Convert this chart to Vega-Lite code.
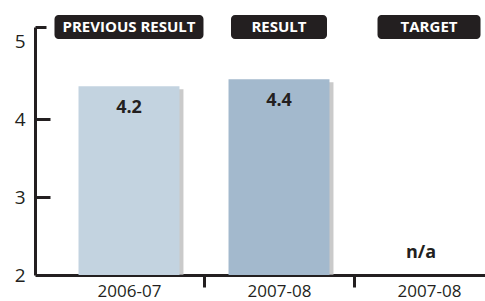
{
  "$schema": "https://vega.github.io/schema/vega-lite/v6.json",
  "width": 488,
  "height": 248,
  "autosize": "none",
  "padding": {"left": 35, "top": 27, "right": 0, "bottom": 26},
  "background": "white",
  "config": {"view": {"stroke": null}, "font": "Open Sans"},
  "data": {
    "values": [
      {"series": "PREVIOUS RESULT", "period": "2006-07", "value": 4.42, "label": "4.2"},
      {"series": "RESULT", "period": "2007-08", "value": 4.51, "label": "4.4"},
      {"series": "TARGET", "period": "2007-08", "value": null, "label": "n/a"}
    ]
  },
  "encoding": {
    "x": {
      "field": "series",
      "type": "nominal",
      "sort": ["PREVIOUS RESULT", "RESULT", "TARGET"],
      "scale": {"paddingInner": 0.327, "paddingOuter": 0.29},
      "axis": {
        "title": null,
        "labelAngle": 0,
        "labelExpr": "datum.value == 'PREVIOUS RESULT' ? '2006-07' : '2007-08'",
        "labelFont": "Open Sans",
        "labelFontSize": 17,
        "labelColor": "#231f20",
        "labelPadding": -4,
        "labelOffset": -75,
        "domainColor": "#231f20",
        "domainWidth": 3,
        "tickColor": "#231f20",
        "tickWidth": 3,
        "tickSize": 12,
        "tickOffset": 75,
        "grid": false
      }
    }
  },
  "layer": [
    {
      "transform": [{"filter": "datum.value != null"}],
      "mark": {"type": "bar", "color": "#b8b8b8", "opacity": 0.75, "xOffset": 4, "yOffset": 3},
      "encoding": {
        "y": {"field": "value", "type": "quantitative", "scale": {"domain": [2, 5.18], "zero": false, "nice": false}},
        "y2": {"datum": 2}
      }
    },
    {
      "transform": [{"filter": "datum.value != null"}],
      "mark": {"type": "bar"},
      "encoding": {
        "y": {
          "field": "value",
          "type": "quantitative",
          "scale": {"domain": [2, 5.18], "zero": false, "nice": false},
          "axis": {
            "title": null,
            "grid": false,
            "values": [2, 3, 4, 5, 5.18],
            "labelExpr": "datum.value > 5.1 ? '' : format(datum.value, 'd')",
            "labelOverlap": false,
            "labelFont": "Open Sans",
            "labelFontSize": 19,
            "labelColor": "#231f20",
            "labelPadding": 25,
            "domainColor": "#231f20",
            "domainWidth": 3,
            "tickWidth": 3,
            "tickColor": {"condition": {"test": "datum.value == 3 || datum.value == 4 || datum.value > 5.1", "value": "#231f20"}, "value": "transparent"},
            "tickSize": {"condition": {"test": "datum.value > 5.1", "value": -11}, "value": -15}
          }
        },
        "y2": {"datum": 2},
        "color": {
          "field": "series",
          "type": "nominal",
          "scale": {"domain": ["PREVIOUS RESULT", "RESULT", "TARGET"], "range": ["#c3d3e0", "#a3b9cd", "#a3b9cd"]},
          "legend": null
        }
      }
    },
    {
      "transform": [{"filter": "datum.value != null"}],
      "mark": {"type": "text", "dy": 22, "baseline": "middle", "fontSize": 18, "fontWeight": "bold", "color": "#231f20"},
      "encoding": {
        "y": {"field": "value", "type": "quantitative"},
        "text": {"field": "label"}
      }
    },
    {
      "transform": [{"filter": "datum.value == null"}],
      "mark": {"type": "text", "dy": -22, "dx": -8, "baseline": "middle", "fontSize": 18, "fontWeight": "bold", "color": "#231f20"},
      "encoding": {
        "y": {"datum": 2, "type": "quantitative"},
        "text": {"field": "label"}
      }
    },
    {
      "mark": {"type": "bar", "color": "#231f20", "cornerRadius": 4},
      "encoding": {
        "y": {"datum": 5.334, "type": "quantitative"},
        "y2": {"datum": 5.026},
        "size": {
          "field": "series",
          "type": "nominal",
          "scale": {"type": "ordinal", "domain": ["PREVIOUS RESULT", "RESULT", "TARGET"], "range": [149, 96, 103]},
          "legend": null
        }
      }
    },
    {
      "mark": {"type": "text", "baseline": "middle", "fontSize": 15, "fontWeight": "bold", "color": "white"},
      "encoding": {
        "y": {"datum": 5.18, "type": "quantitative"},
        "text": {"field": "series"}
      }
    }
  ]
}
